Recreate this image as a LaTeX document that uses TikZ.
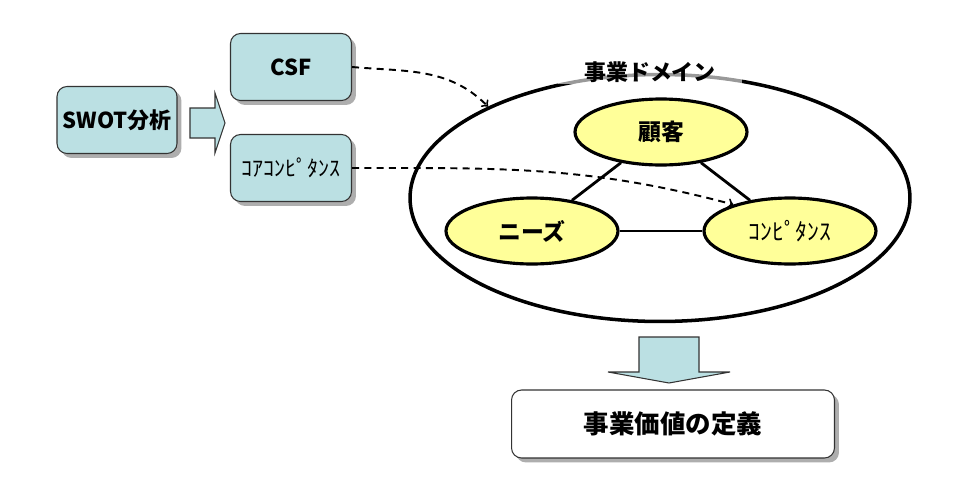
\documentclass[tikz,border=0pt]{standalone}
\usepackage{fontspec}
\setmainfont{Noto Sans CJK JP}
\usetikzlibrary{shapes.geometric,shadows}
\definecolor{boxcyan}{RGB}{187,224,227}
\definecolor{ovalyellow}{RGB}{255,255,153}

\begin{document}
\begin{tikzpicture}[x=0.02cm,y=0.02cm,
    box/.style={draw=black!80,fill=boxcyan,rounded corners=0.2cm,inner sep=0,line width=0.6pt,
      minimum width=2.42cm,minimum height=1.34cm,
      drop shadow={shadow xshift=0.09cm,shadow yshift=-0.09cm,opacity=0.45,fill=black!70},
      font=\bfseries\fontsize{12.5}{14}\selectfont},
    oval/.style={ellipse,draw,line width=1.8pt,fill=ovalyellow,inner sep=0,
      minimum width=3.44cm,minimum height=1.32cm,font=\bfseries\fontsize{13}{15}\selectfont},
    blockarrow/.style={draw=black!80,fill=boxcyan,line width=0.6pt},
    link/.style={line width=1.6pt},
    flow/.style={->,dashed,dash pattern=on 4pt off 3pt,line width=1.1pt}]
    \useasboundingbox (0,0) rectangle (960,-497);
            % left part
            \node[box,minimum width=2.4cm] at (117,-120) (swot) {SWOT分析};
            \node[box] at (291,-67) (csf) {CSF};
            \node[box,font=\fontsize{12.5}{14}\selectfont] at (291,-168) (core) {ｺｱｺﾝﾋﾟﾀﾝｽ};
            \draw[blockarrow] (190,-108) -- (215,-108) -- (215,-93) -- (225,-123)
                -- (215,-153) -- (215,-138) -- (190,-138) -- cycle;
            % domain
            \node[ellipse,draw,line width=2pt,minimum width=10cm,minimum height=4.94cm] at (660,-198) (dom) {};
            \node[fill=white,fill opacity=0.6,text opacity=1,inner xsep=0.52cm,inner ysep=1pt,
                font=\bfseries\fontsize{12.5}{14}\selectfont] at (650,-72) (domlabel) {事業ドメイン};
            \node[oval] at (661,-132) (gk) {顧客};
            \node[oval] at (532,-231) (nz) {ニーズ};
            \node[oval,font=\fontsize{13.5}{15}\selectfont] at (790,-231) (cp) {ｺﾝﾋﾟﾀﾝｽ};
            \draw[link] (gk) -- (nz);
            \draw[link] (gk) -- (cp);
            \draw[link] (nz) -- (cp);
            \draw[flow] (csf.east) to [out=-5,in=135] (dom.152);
            \draw[flow] (core.east) to [out=0,in=165] (cp.155);
            % result
            \draw[blockarrow] (639,-337) -- (699,-337) -- (699,-372) -- (730,-372)
                -- (669,-383) -- (608,-372) -- (639,-372) -- cycle;
            \node[box,fill=white,minimum width=6.46cm,minimum height=1.36cm,
                font=\bfseries\fontsize{14.5}{16}\selectfont] at (673,-424) (value) {事業価値の定義};
\end{tikzpicture}
\end{document}
